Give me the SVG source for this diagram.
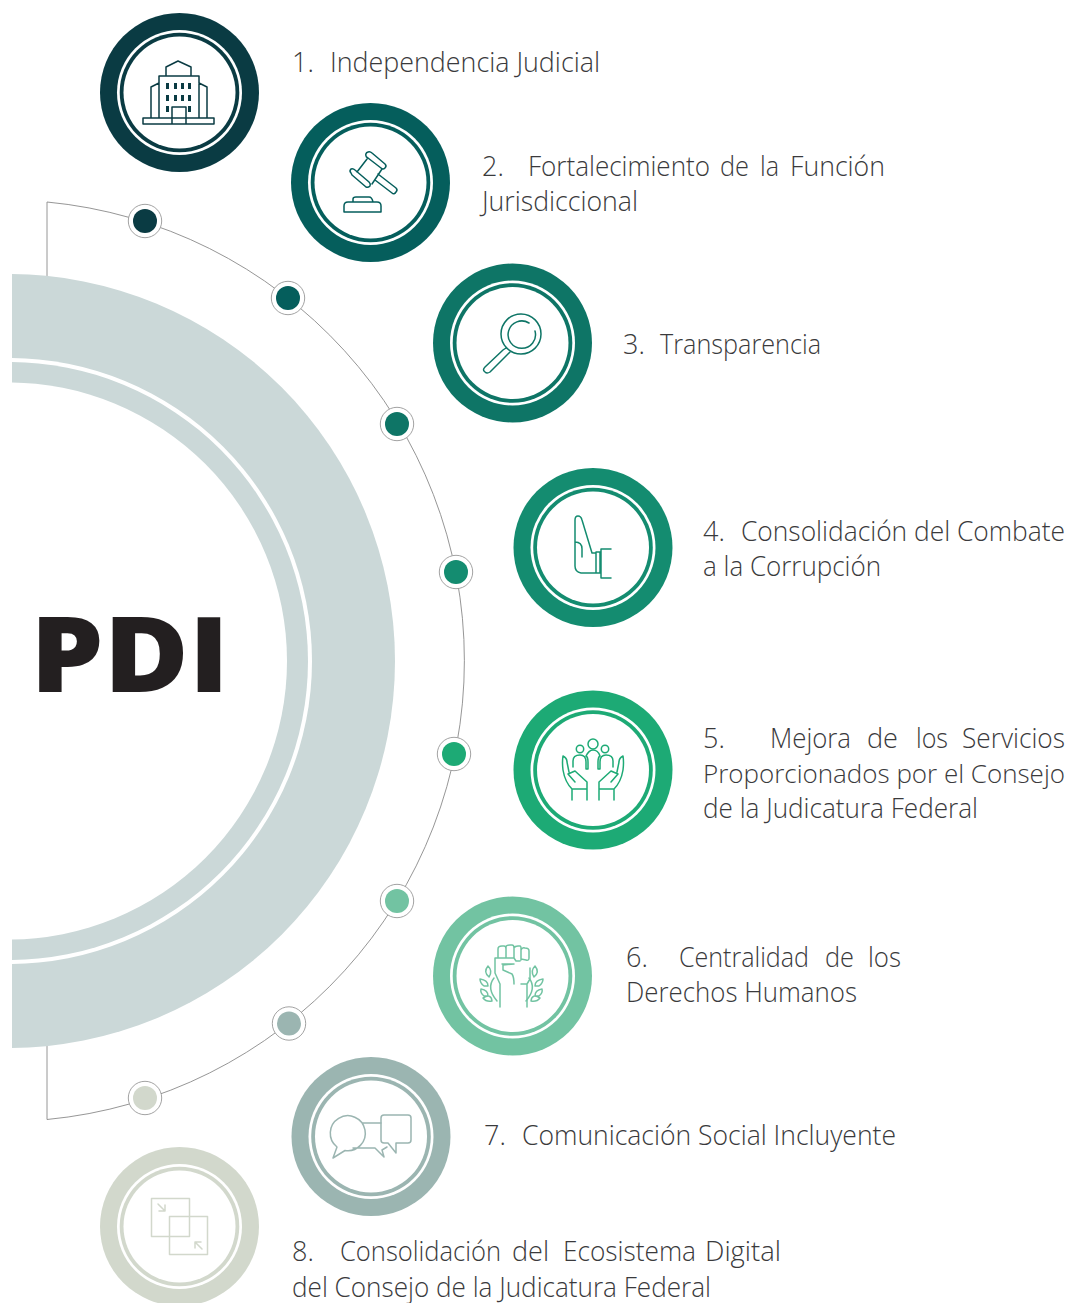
<svg xmlns="http://www.w3.org/2000/svg" width="1071" height="1303" viewBox="0 0 1071 1303">
<style>
text{font-family:"Open Sans","Noto Sans","Liberation Sans",sans-serif;font-weight:300;font-size:27px;fill:#3a3a3c}
.pdi{font-weight:800;font-size:105px;fill:#231f20}
.ic{fill:none;stroke-width:1.5;stroke-linejoin:round;stroke-linecap:round}
.link{fill:none;stroke:#8a8a8a;stroke-width:.9}
</style>
<defs>
<clipPath id="c"><rect x="12" y="0" width="1059" height="1303"/></clipPath>
<g id="badge">
<circle r="79.500" fill="currentColor"/><circle r="62.500" fill="#fff"/><circle r="59.800" fill="currentColor"/><circle r="56" fill="#fff"/>
</g>
<g id="dot"><circle r="16.700" fill="#fff" stroke="#8a8a8a" stroke-width=".8"/><circle r="12" fill="currentColor"/></g>
</defs>
<rect width="1071" height="1303" fill="#fff"/>
<g id="connectors">
<path class="link" d="M47 276V202A460.800 460.800 0 0 1 47 1119.500V1045"/>
</g>
<g id="hub" clip-path="url(#c)">
<circle cx="8" cy="661" r="387" fill="#cbd8d8"/>
<circle cx="9" cy="661" r="303" fill="#fff"/>
<circle cx="9" cy="661" r="299" fill="#cbd8d8"/>
<circle cx="8.500" cy="661" r="278.500" fill="#fff"/>
<text class="pdi" x="30.300" y="692" textLength="199" lengthAdjust="spacingAndGlyphs">PDI</text>
</g>
<g id="dots">
<use href="#dot" x="145" y="221" color="#0a3b43"/>
<use href="#dot" x="288" y="298" color="#055e5c"/>
<use href="#dot" x="397" y="424" color="#0e7566"/>
<use href="#dot" x="456" y="572" color="#148c70"/>
<use href="#dot" x="454" y="754" color="#1daa75"/>
<use href="#dot" x="397" y="901" color="#72c3a2"/>
<use href="#dot" x="289" y="1023.500" color="#9bb5b1"/>
<use href="#dot" x="145" y="1098" color="#d2d8cc"/>
</g>
<g id="node1" color="#0a3b43">
<use href="#badge" x="179.500" y="92.500"/>
<g class="ic" stroke="#0a3b43">
<path d="M143 118H214V124H143ZM151 118V87L159 83M207 118V87L199 83M159 76H199V118M159 76V118M166 75V67L178 61 191 67V75M172 124V107H186V124"/>
</g>
<path fill="#0a3b43" d="M166 83h3v6h-3zM174 83h3v6h-3zM181 83h3v6h-3zM188 83h3v6h-3zM166 95h3v6h-3zM174 95h3v6h-3zM181 95h3v6h-3zM188 95h3v6h-3zM166 106h3v6h-3zM188 106h3v6h-3z"/>
<text x="292" y="72">1.</text><text x="330" y="72" textLength="270" lengthAdjust="spacingAndGlyphs">Independencia Judicial</text>
</g>
<g id="node2" color="#055e5c">
<use href="#badge" x="370.500" y="182.500"/>
<g class="ic" stroke="#055e5c">
<path d="M366 156Q365 153 368 152 370 151 372 153L385 164Q387 166 385 168 383 170 381 168L368 158Q366 157 366 156ZM351 173Q349 171 351 169 353 168 355 170L369 182Q371 184 370 186 368 188 366 187L352 175ZM367 159L357 172M382 169L372 184M378 174L396 188Q398 190 396 192 394 195 392 193L375 180"/>
<path d="M344 212V206Q344 202 348 202H377Q381 202 381 206V212ZM353 202V199Q353 197 356 197H369Q372 197 373 202"/>
</g>
<text x="482" y="176">2.</text>
<text y="176"><tspan x="528" textLength="182" lengthAdjust="spacingAndGlyphs">Fortalecimiento</tspan> <tspan x="720" textLength="29" lengthAdjust="spacingAndGlyphs">de</tspan> <tspan x="760" textLength="19" lengthAdjust="spacingAndGlyphs">la</tspan> <tspan x="790" textLength="95" lengthAdjust="spacingAndGlyphs">Función</tspan></text>
<text x="482" y="211" textLength="156" lengthAdjust="spacingAndGlyphs">Jurisdiccional</text>
</g>
<g id="node3" color="#0e7566">
<use href="#badge" x="512.500" y="343"/>
<g class="ic" stroke="#0e7566">
<circle cx="521" cy="334" r="20"/>
<path d="M529 323A13.700 13.700 0 1 0 535 331M503 350L485 367Q482 370 485 372 487 374 490 372L507 355M503 350L506 348M507 355L510 352"/>
</g>
<text x="623" y="354">3.</text><text x="660" y="354" textLength="161" lengthAdjust="spacingAndGlyphs">Transparencia</text>
</g>
<g id="node4" color="#148c70">
<use href="#badge" x="593" y="547.500"/>
<g class="ic" stroke="#148c70">
<path d="M596 573H581Q575 572 575 566V520Q575 516 578 516 581 516 582 520L592 553H596M575 542Q582 542 582 549V557M596 552H600V573H596ZM611 549H601V578H611"/>
</g>
<text x="703" y="541">4.</text><text x="741" y="541" textLength="324" lengthAdjust="spacingAndGlyphs">Consolidación del Combate</text>
<text x="703" y="576" textLength="178" lengthAdjust="spacingAndGlyphs">a la Corrupción</text>
</g>
<g id="node5" color="#1daa75">
<use href="#badge" x="593" y="770"/>
<g class="ic" stroke="#1daa75">
<circle cx="593" cy="744" r="5"/><circle cx="580" cy="749" r="3.700"/><circle cx="605" cy="749" r="3.700"/>
<path d="M573 767V761Q573 755 580 755 586 755 586 762V769H588V762Q588 757 586 756 589 750 593 750 598 750 600 756 598 757 598 762V769H600V762Q600 755 606 755 613 755 613 761V767"/>
<path d="M572 800V789H587V800M587 789V782L575 771 568 774 575 782M572 789Q565 782 563 770 562 762 563 756 567 758 567 762L569 772"/>
<path d="M614 800V789H599V800M599 789V782L611 771 618 774 611 782M614 789Q621 782 623 770 624 762 623 756 619 758 619 762L617 772"/>
</g>
<text x="703" y="748">5.</text>
<text y="748"><tspan x="770" textLength="81" lengthAdjust="spacingAndGlyphs">Mejora</tspan> <tspan x="867" textLength="31" lengthAdjust="spacingAndGlyphs">de</tspan> <tspan x="916" textLength="32" lengthAdjust="spacingAndGlyphs">los</tspan> <tspan x="962" textLength="103" lengthAdjust="spacingAndGlyphs">Servicios</tspan></text>
<text x="703" y="783" style="font-size:26px" textLength="362" lengthAdjust="spacingAndGlyphs">Proporcionados por el Consejo</text>
<text x="703" y="818" textLength="275" lengthAdjust="spacingAndGlyphs">de la Judicatura Federal</text>
</g>
<g id="node6" color="#72c3a2">
<use href="#badge" x="512.500" y="976"/>
<g class="ic" stroke="#72c3a2">
<path d="M500 1007V984L495 973V958H514L516 961H520M498 957V949Q498 946 502 946H504Q506 946 506 949V957M506 949V947Q506 945 510 945H512Q514 945 514 948V958M514 948Q515 946 518 946H520Q521 946 521 949V960M521 950Q522 947 525 948 529 948 529 951V958Q529 961 526 960L521 959M502 964H514L503 965 503 970 512 974Q514 977 514 984M527 1007V984H521M527 984L530 979V968"/>
<path d="M489 977Q483 972 488 966 493 971 489 977ZM484 986Q480 983 480 979 488 980 488 986ZM484 996Q480 993 481 989 488 990 488 996ZM492 1001Q486 1002 483 998 491 993 492 1001ZM494 978Q486 988 497 1001"/>
<path d="M534 977Q540 972 535 966 530 971 534 977ZM539 986Q543 983 543 979 535 980 535 986ZM539 996Q543 993 542 989 535 990 535 996ZM531 1001Q537 1002 540 998 532 993 531 1001ZM529 978Q537 988 526 1001"/>
</g>
<text x="626" y="967">6.</text>
<text y="967"><tspan x="679" textLength="130" lengthAdjust="spacingAndGlyphs">Centralidad</tspan> <tspan x="825" textLength="29" lengthAdjust="spacingAndGlyphs">de</tspan> <tspan x="868" textLength="33" lengthAdjust="spacingAndGlyphs">los</tspan></text>
<text x="626" y="1002" textLength="231" lengthAdjust="spacingAndGlyphs">Derechos Humanos</text>
</g>
<g id="node7" color="#9bb5b1">
<use href="#badge" x="371" y="1136.500"/>
<g class="ic" stroke="#9bb5b1">
<path d="M337 1147A17.500 17.500 0 1 1 345 1150.500L333 1158ZM362 1123H381M353 1148H375L384 1157 382 1150 387 1147"/>
<path d="M384 1115H408Q411 1115 411 1118V1140Q411 1143 408 1143H396V1153L388 1143H384Q381 1143 381 1140V1118Q381 1115 384 1115Z"/>
</g>
<text x="484" y="1145">7.</text><text x="522" y="1145" textLength="374" lengthAdjust="spacingAndGlyphs">Comunicación Social Incluyente</text>
</g>
<g id="node8" color="#d2d8cc">
<use href="#badge" x="179.500" y="1226.500"/>
<g class="ic" stroke="#d2d8cc">
<path d="M151.500 1198.500H189.500V1236.500H151.500ZM169.500 1216.500H207.500V1254.500H169.500ZM158 1204L165 1211M159 1211H165V1205M202 1249L195 1242M201 1242H195V1248"/>
</g>
<text x="292" y="1261">8.</text>
<text y="1261"><tspan x="340" textLength="161" lengthAdjust="spacingAndGlyphs">Consolidación</tspan> <tspan x="512" textLength="37" lengthAdjust="spacingAndGlyphs">del</tspan> <tspan x="563" textLength="133" lengthAdjust="spacingAndGlyphs">Ecosistema</tspan> <tspan x="705" textLength="76" lengthAdjust="spacingAndGlyphs">Digital</tspan></text>
<text x="292" y="1297" textLength="419" lengthAdjust="spacingAndGlyphs">del Consejo de la Judicatura Federal</text>
</g>
</svg>
